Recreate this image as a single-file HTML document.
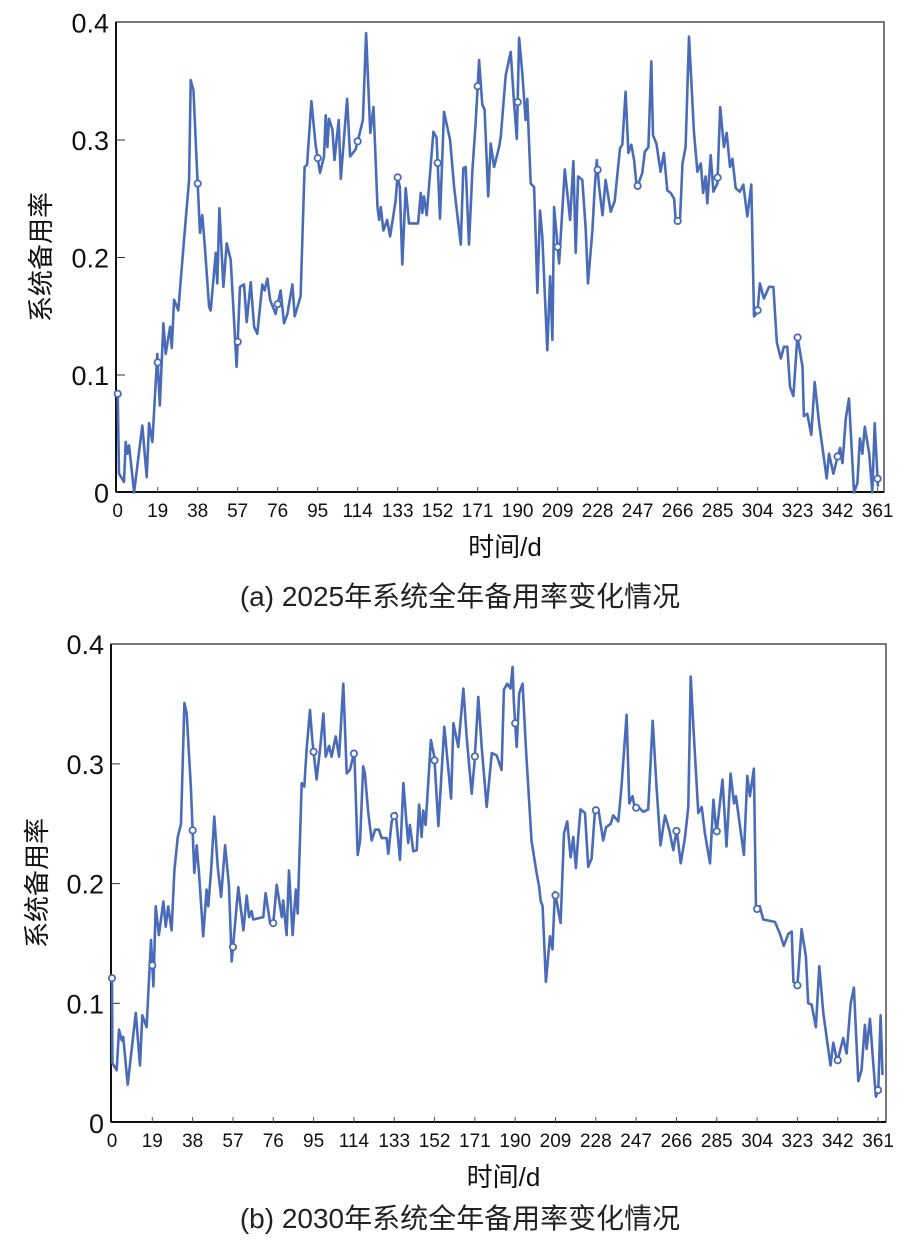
<!DOCTYPE html>
<html><head><meta charset="utf-8"><style>
html,body{margin:0;padding:0;background:#fff;}
svg{display:block;font-family:"Liberation Sans","Noto Sans CJK SC",sans-serif;}
</style></head><body>
<svg id="svg" width="920" height="1246" viewBox="0 0 920 1246"></svg>
<script>
const xTickLabels=[0,19,38,57,76,95,114,133,152,171,190,209,228,247,266,285,304,323,342,361];
const yTickLabels=[0,0.1,0.2,0.3,0.4];
const markerDays=[0,19,38,57,76,95,114,133,152,171,190,209,228,247,266,285,304,323,342,361];
const daysA=[0,0.6,3,3.8,4.6,5.4,7.8,11.7,13.8,14.9,16.5,18.8,20,21.7,22.8,24.9,25.7,26.8,28.8,31.5,33.9,34.7,36,37.5,39.1,40.2,41.3,43.4,44.2,46.6,47.3,48.3,50.2,51.8,53.7,56.5,58.1,60,61.3,63.2,64.8,66.3,68.7,69.8,71.1,72.4,75,77.4,79,80.6,83,84.1,86.9,88.8,90,92,94,96.1,98,98.8,99.6,100.4,102,103,105,106,109,110.4,113,114.6,116.5,118,120,121.5,123.4,124.2,125,126.2,128,129.4,132,132.9,134,135.2,136.8,138.4,142.7,144,144.7,145.5,146.8,150,151.5,153.1,155,157.9,159.8,163,164.2,165.3,166.9,168.5,170,171.7,173.2,174.3,176,177.2,178.8,181.2,182,184.3,186.7,188.3,189.6,190.7,192.2,193.8,194.6,196.2,197.8,199.4,200.6,201.7,204.1,205.4,206.5,207.3,209.7,212.4,214.9,216.5,217.6,218.7,220.7,222.3,223.4,225.5,226.6,227.6,228.7,230.3,231.8,234.2,236.1,238.6,239.7,241.3,242.6,244,245.3,246.6,249.2,250.4,252.1,253.5,254.3,255.9,257.9,259.5,261.1,262.7,264.3,265.1,267.1,268.3,269.8,271.4,273.8,275.4,277,278.1,279.3,280.1,281.7,283,284.9,286.2,288,289.3,290.9,292,293.6,295.6,297.2,299.1,301,302.3,303.9,305.1,307,309.4,311.5,313.1,315,316.5,318.1,319.4,321,322.9,325.3,326,327.6,329.5,331.1,333.2,336.8,337.9,340,341.9,343.2,344.3,345.9,347.4,349.8,351.4,352.6,353.8,354.9,357,358.5,359.6,361.2];
const valsA=[0.084,0.016,0.009,0.043,0.033,0.040,0.0,0.057,0.013,0.059,0.043,0.118,0.074,0.144,0.118,0.141,0.123,0.164,0.155,0.215,0.266,0.351,0.342,0.282,0.221,0.236,0.212,0.158,0.155,0.204,0.178,0.242,0.175,0.212,0.198,0.107,0.175,0.177,0.145,0.179,0.141,0.135,0.177,0.172,0.182,0.164,0.152,0.172,0.144,0.152,0.177,0.150,0.167,0.277,0.279,0.333,0.296,0.272,0.286,0.321,0.294,0.318,0.309,0.283,0.317,0.267,0.335,0.286,0.292,0.303,0.317,0.391,0.306,0.328,0.243,0.232,0.243,0.223,0.232,0.218,0.248,0.269,0.260,0.194,0.259,0.229,0.229,0.255,0.238,0.252,0.236,0.307,0.302,0.233,0.324,0.300,0.260,0.211,0.276,0.277,0.211,0.274,0.314,0.368,0.330,0.326,0.252,0.297,0.277,0.294,0.303,0.355,0.375,0.331,0.301,0.387,0.357,0.317,0.335,0.263,0.260,0.170,0.240,0.218,0.121,0.184,0.130,0.243,0.195,0.275,0.232,0.282,0.204,0.269,0.266,0.226,0.178,0.223,0.259,0.283,0.260,0.236,0.266,0.239,0.248,0.293,0.296,0.341,0.289,0.296,0.283,0.259,0.272,0.290,0.294,0.367,0.304,0.297,0.273,0.289,0.257,0.255,0.250,0.232,0.230,0.280,0.294,0.388,0.306,0.273,0.280,0.255,0.269,0.246,0.287,0.256,0.263,0.328,0.294,0.306,0.277,0.284,0.259,0.256,0.262,0.235,0.262,0.150,0.153,0.178,0.165,0.175,0.175,0.128,0.114,0.124,0.124,0.090,0.082,0.133,0.107,0.065,0.067,0.049,0.094,0.059,0.012,0.033,0.016,0.030,0.038,0.025,0.063,0.080,0.0,0.008,0.046,0.033,0.056,0.033,0.0,0.059,0.005];
const daysB=[0,0.2,2.2,3.3,4.6,5.3,7.4,11.2,13.2,14.3,16.3,18.4,19.5,20.6,22.1,24.2,25.3,26.5,28.1,29.4,31,32.5,34.1,35.2,37.2,38.8,39.9,41,43,44.6,45.4,46.7,48.2,49.8,51.4,53.3,55.1,56.4,59.5,61.9,63.5,64.6,65.8,66.6,71.3,72.4,74.5,76,77.6,80,80.7,82.3,83.4,85.1,86.6,87.5,89.4,90.6,91.7,93.3,94.4,96.4,98,99.6,100.7,102.3,103.5,105.4,107,109,110.6,112.1,114.2,115.8,116.9,118.4,119.2,120.8,122.4,124,125.8,127.1,129.4,130.2,131.8,133.7,135.7,137.3,138.9,139.6,140.4,142,143.6,144.7,145.9,146.7,147.8,150.3,151.9,153.8,156.6,159.8,160.9,163.2,165.6,167.1,169.5,170.8,172.6,174.2,176.6,179,181.3,183.6,184.7,186.3,187.8,188.8,189.4,190.7,191.9,193.5,195.1,197.7,200.1,201.3,202,202.9,204.5,206.4,207.6,208.7,211.4,213,214.5,216.1,217.4,218.6,219.7,220.8,222.9,224.4,226,227.6,229.2,231.5,232.8,235,236.2,238.6,240.1,242.5,243.8,245.3,246.4,248,250.4,252.7,254.8,256.6,258.5,260.6,262.6,264.5,266.1,268,270,271.6,272.7,274.2,276.3,277.9,279.4,281.8,283.4,284.9,287.7,289.6,291.5,293.1,294,297.8,299.4,300.6,302.5,303.5,305.3,306.9,312.4,314.8,316.6,318.7,320.3,321.1,323,325,327,328.1,329.7,331.7,333.3,335.2,338.6,339.9,341.8,344.6,346.2,348.1,349.6,351.7,353.2,354.8,355.6,357.2,358.4,360,361.1,362.2,363.1];
const valsB=[0.121,0.050,0.044,0.078,0.069,0.072,0.032,0.092,0.048,0.090,0.080,0.153,0.114,0.181,0.157,0.185,0.164,0.181,0.161,0.211,0.239,0.250,0.351,0.342,0.280,0.209,0.232,0.209,0.156,0.195,0.181,0.211,0.256,0.214,0.189,0.232,0.199,0.135,0.197,0.161,0.190,0.172,0.177,0.170,0.172,0.192,0.167,0.167,0.199,0.172,0.186,0.157,0.211,0.157,0.195,0.175,0.284,0.281,0.312,0.345,0.320,0.287,0.312,0.342,0.306,0.315,0.306,0.323,0.306,0.367,0.292,0.295,0.310,0.224,0.236,0.298,0.292,0.259,0.236,0.245,0.245,0.238,0.238,0.225,0.252,0.259,0.220,0.284,0.248,0.234,0.249,0.227,0.228,0.266,0.239,0.261,0.249,0.320,0.306,0.248,0.331,0.271,0.334,0.314,0.363,0.323,0.275,0.300,0.356,0.314,0.264,0.309,0.307,0.295,0.362,0.367,0.363,0.381,0.351,0.314,0.359,0.367,0.312,0.236,0.209,0.197,0.186,0.181,0.118,0.156,0.145,0.193,0.167,0.242,0.252,0.222,0.239,0.213,0.239,0.262,0.259,0.214,0.221,0.261,0.262,0.236,0.247,0.250,0.257,0.252,0.281,0.341,0.267,0.273,0.263,0.264,0.260,0.262,0.336,0.281,0.232,0.257,0.245,0.228,0.245,0.217,0.238,0.264,0.373,0.323,0.259,0.264,0.242,0.217,0.270,0.242,0.287,0.231,0.292,0.267,0.273,0.224,0.290,0.273,0.296,0.178,0.181,0.170,0.168,0.158,0.148,0.158,0.160,0.118,0.115,0.162,0.139,0.100,0.099,0.080,0.131,0.092,0.048,0.067,0.051,0.071,0.058,0.100,0.113,0.035,0.044,0.082,0.062,0.087,0.058,0.022,0.028,0.090,0.040];

const NS='http://www.w3.org/2000/svg';
const svg=document.getElementById('svg');
function mk(tag,attrs,parent){const e=document.createElementNS(NS,tag);for(const k in attrs)e.setAttribute(k,attrs[k]);(parent||svg).appendChild(e);return e;}
function interp(days,vals,d){if(d<=days[0])return vals[0];for(let i=1;i<days.length;i++){if(days[i]>=d){const t=(d-days[i-1])/(days[i]-days[i-1]);return vals[i-1]+t*(vals[i]-vals[i-1]);}}return vals[vals.length-1];}

function drawChart(cfg,days,vals,id){
  const g=mk('g',{});
  
  
  const xs=d=>cfg.x0+cfg.kx*d;
  const ys=v=>cfg.y0-cfg.ky*v;
  const fr=mk('rect',{x:cfg.L,y:cfg.T,width:cfg.R-cfg.L,height:cfg.B-cfg.T,fill:'none',stroke:'#222','stroke-width':1.2},g);
  
  
  const ax=mk('line',{x1:cfg.L,y1:cfg.T,x2:cfg.L,y2:cfg.B,stroke:'#111','stroke-width':2},g);
  
  
  const bx=mk('line',{x1:cfg.L,y1:cfg.B,x2:cfg.R,y2:cfg.B,stroke:'#111','stroke-width':2},g);
  
  
  xTickLabels.forEach(t=>{
    const x=xs(t);
    if(t>0){const tk=mk('line',{x1:x,y1:cfg.B,x2:x,y2:cfg.B-5,stroke:'#555','stroke-width':1},g);
    
    }
    const tx=mk('text',{x:x,y:cfg.B+25,'font-size':19,'text-anchor':'middle',fill:'#111'},g);
    tx.textContent=t;
    
    
  });
  yTickLabels.forEach(t=>{
    const y=ys(t);
    if(t>0&&t<0.4){const tk=mk('line',{x1:cfg.L,y1:y,x2:cfg.L+9,y2:y,stroke:'#333','stroke-width':1},g);
    
    }
    const tx=mk('text',{x:cfg.L-7,y:y+10,'font-size':27,'text-anchor':'end',fill:'#111'},g);
    tx.textContent=(t===0?'0':t.toFixed(1));
    
    
  });
  let d='';
  days.forEach((dy,i)=>{d+=(i?'L':'M')+xs(dy).toFixed(1)+' '+ys(vals[i]).toFixed(1);});
  const p=mk('path',{d:d,fill:'none',stroke:'#4a6cb8','stroke-width':2.6,'stroke-linejoin':'round'},g);
  
  
  markerDays.forEach(md=>{
    const c=mk('circle',{cx:xs(md),cy:ys(interp(days,vals,md)),r:3.2,fill:'#fff',stroke:'#4a6cb8','stroke-width':1.8},g);
    
    
  });
  const xt=mk('text',{x:(cfg.L+cfg.R)/2+5,y:cfg.B+64,'font-size':26,'text-anchor':'middle',fill:'#111'},g);
  xt.textContent='时间/d';
  
  
  const cy=(cfg.T+cfg.B)/2;
  const yt=mk('text',{x:cfg.ytx,y:cy,'font-size':26,'text-anchor':'middle',fill:'#111',transform:'rotate(-90 '+cfg.ytx+' '+cy+')'},g);
  yt.textContent='系统备用率';
  
  
  const cp=mk('text',{x:460,y:cfg.capY,'font-size':28,'text-anchor':'middle',fill:'#222'},g);
  cp.textContent=cfg.caption;
  
  
}
drawChart({L:116,R:884,T:22,B:492,x0:117.7,kx:2.105,y0:492.5,ky:1175,ytx:50,capY:606,caption:'(a) 2025年系统全年备用率变化情况'},daysA,valsA,'2025');
drawChart({L:111,R:886,T:644,B:1122,x0:112,kx:2.122,y0:1123,ky:1197,ytx:46,capY:1228,caption:'(b) 2030年系统全年备用率变化情况'},daysB,valsB,'2030');
</script>
</body></html>
